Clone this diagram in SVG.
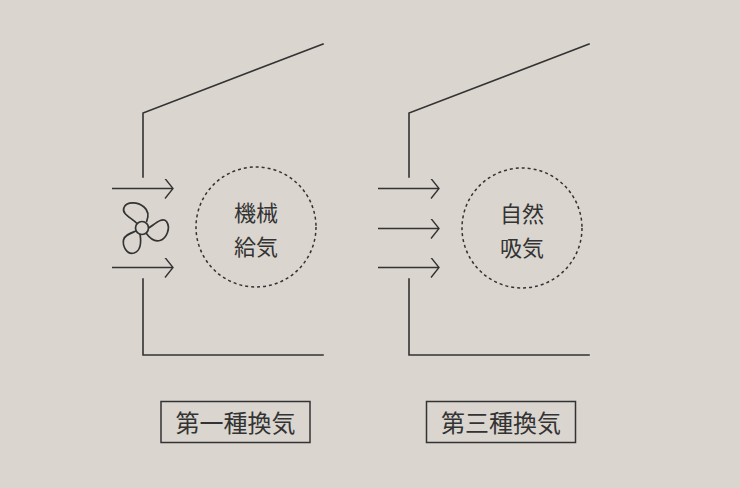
<svg xmlns="http://www.w3.org/2000/svg" width="740" height="488" viewBox="0 0 740 488">
<defs>
<style>
.ln{fill:none;stroke:#333;stroke-width:1.6;stroke-linecap:square}
.ar{fill:none;stroke:#333;stroke-width:1.4}
.dc{fill:none;stroke:#333;stroke-width:1.5;stroke-dasharray:3 3}
.tx{font-family:"Noto Sans CJK JP","Noto Sans CJK SC",sans-serif;fill:#333;text-anchor:middle}
.lb{fill:none;stroke:#333;stroke-width:1.5}
</style>
<marker id="arr" viewBox="0 0 10 20" refX="9" refY="10" markerWidth="10" markerHeight="20" markerUnits="userSpaceOnUse" orient="auto">
<path d="M1,0 L9,10 L1,20" fill="none" stroke="#333" stroke-width="1.4"/>
</marker>
</defs>
<rect width="740" height="488" fill="#dad6cf"/>
<g id="connectors">
<line class="ar" x1="112" y1="188.5" x2="173" y2="188.5" marker-end="url(#arr)"/>
<line class="ar" x1="112" y1="267.5" x2="173" y2="267.5" marker-end="url(#arr)"/>
<line class="ar" x1="378" y1="188.5" x2="439" y2="188.5" marker-end="url(#arr)"/>
<line class="ar" x1="378" y1="228.5" x2="439" y2="228.5" marker-end="url(#arr)"/>
<line class="ar" x1="378" y1="267.5" x2="439" y2="267.5" marker-end="url(#arr)"/>
</g>
<g id="house1">
<polyline class="ln" points="143,177 143,113 323,44"/>
<polyline class="ln" points="143,279 143,355 323,355"/>
</g>
<g id="house3">
<polyline class="ln" points="409,177 409,113 589,44"/>
<polyline class="ln" points="409,279 409,355 589,355"/>
</g>
<g id="fan" fill="none" stroke="#333" stroke-width="1.7">
<circle cx="142" cy="228" r="6.5"/>
<path d="M137,223.5 C132,218 121,214 124,207.5 C127,201 138,202 144,207 C149.5,211.5 148.5,217 146.5,222"/>
<path d="M148.5,228 C154,225 162,216.5 166.5,221.5 C171,228 166.5,238.5 160,240.5 C154,242.5 150,238.5 146,233"/>
<path d="M140,234 C141,240 141.5,250.5 134,253 C126.5,255 122.5,246 123.5,240 C124.5,235 131,233 136,231"/>
</g>
<g id="circle1">
<circle class="dc" cx="256" cy="227" r="60"/>
<text class="tx" x="256" y="220.5" font-size="22">機械</text>
<text class="tx" x="256" y="254.5" font-size="22">給気</text>
</g>
<g id="circle3">
<circle class="dc" cx="522" cy="228" r="60"/>
<text class="tx" x="522" y="221.5" font-size="22">自然</text>
<text class="tx" x="522" y="255.5" font-size="22">吸気</text>
</g>
<g id="label1">
<rect class="lb" x="161" y="401.5" width="149" height="41"/>
<text class="tx" x="235.5" y="432" font-size="24">第一種換気</text>
</g>
<g id="label3">
<rect class="lb" x="426.5" y="401.5" width="149" height="41"/>
<text class="tx" x="501" y="432" font-size="24">第三種換気</text>
</g>
</svg>
